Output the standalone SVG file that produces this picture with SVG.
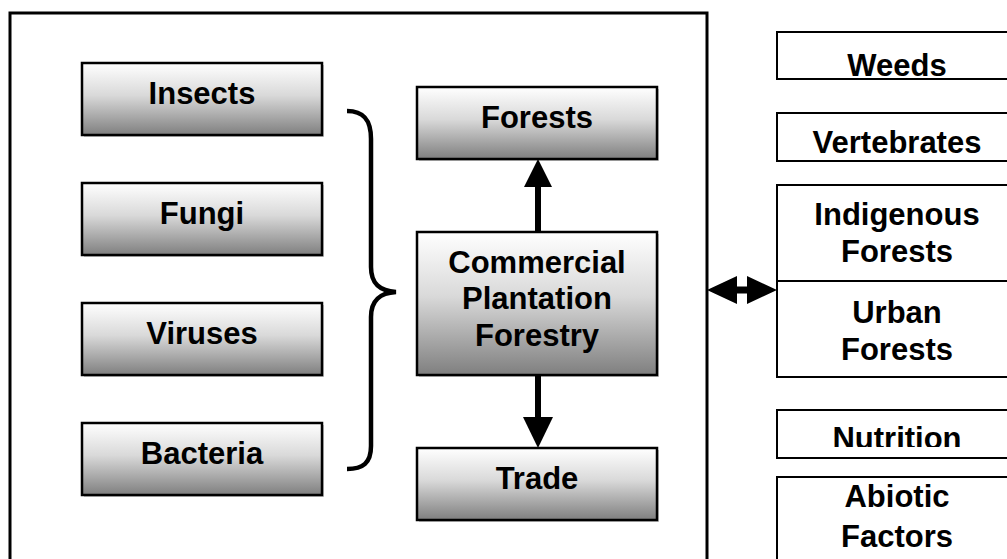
<svg xmlns="http://www.w3.org/2000/svg" width="1007" height="559" viewBox="0 0 1007 559">
<defs>
<linearGradient id="g" x1="0" y1="0" x2="0" y2="1">
<stop offset="0" stop-color="#ffffff"/>
<stop offset="0.45" stop-color="#d9d9d9"/>
<stop offset="1" stop-color="#7f7f7f"/>
</linearGradient>
<clipPath id="cNut"><rect x="777" y="410" width="240" height="37"/></clipPath>
<clipPath id="cWeeds"><rect x="777" y="32" width="240" height="44"/></clipPath>
<clipPath id="cVert"><rect x="777" y="113" width="240" height="40"/></clipPath>
</defs>
<style>
.gb{fill:url(#g);stroke:#000;stroke-width:2.5}
.sh{fill:#c8c8c8}
.wb{fill:#fff;stroke:#000;stroke-width:2}
.t{font-family:"Liberation Sans",Arial,sans-serif;font-weight:bold;font-size:31px;fill:#000;text-anchor:middle}
.ln{stroke:#000;stroke-width:6;fill:none}
</style>
<rect x="10" y="13" width="697" height="560" fill="#fff" stroke="#000" stroke-width="3"/>
<g id="insects"><rect class="sh" x="84" y="65" width="240" height="72"/><rect class="gb" x="82" y="63" width="240" height="72"/><text class="t" x="202" y="104">Insects</text></g>
<g id="fungi"><rect class="sh" x="84" y="185" width="240" height="72"/><rect class="gb" x="82" y="183" width="240" height="72"/><text class="t" x="202" y="224">Fungi</text></g>
<g id="viruses"><rect class="sh" x="84" y="305" width="240" height="72"/><rect class="gb" x="82" y="303" width="240" height="72"/><text class="t" x="202" y="344">Viruses</text></g>
<g id="bacteria"><rect class="sh" x="84" y="425" width="240" height="72"/><rect class="gb" x="82" y="423" width="240" height="72"/><text class="t" x="202" y="464">Bacteria</text></g>
<g id="forests"><rect class="sh" x="419" y="89" width="240" height="72"/><rect class="gb" x="417" y="87" width="240" height="72"/><text class="t" x="537" y="128">Forests</text></g>
<g id="commercial"><rect class="sh" x="419" y="234" width="240" height="143"/><rect class="gb" x="417" y="232" width="240" height="143"/><text class="t" x="537" y="273">Commercial</text><text class="t" x="537" y="309">Plantation</text><text class="t" x="537" y="346">Forestry</text></g>
<g id="trade"><rect class="sh" x="419" y="450" width="240" height="72"/><rect class="gb" x="417" y="448" width="240" height="72"/><text class="t" x="537" y="489">Trade</text></g>
<g id="weeds"><rect class="wb" x="777" y="32" width="240" height="47"/><text class="t" x="897" y="76" clip-path="url(#cWeeds)">Weeds</text></g>
<g id="vertebrates"><rect class="wb" x="777" y="113" width="240" height="48"/><text class="t" x="897" y="153" clip-path="url(#cVert)">Vertebrates</text></g>
<g id="indigenous"><rect class="wb" x="777" y="185" width="240" height="96"/><text class="t" x="897" y="225">Indigenous</text><text class="t" x="897" y="262">Forests</text></g>
<g id="urban"><rect class="wb" x="777" y="281" width="240" height="96"/><text class="t" x="897" y="323">Urban</text><text class="t" x="897" y="360">Forests</text></g>
<g id="nutrition"><rect class="wb" x="777" y="410" width="240" height="48"/><text class="t" x="897" y="449" clip-path="url(#cNut)">Nutrition</text></g>
<g id="abiotic"><rect class="wb" x="777" y="477" width="240" height="100"/><text class="t" x="897" y="507">Abiotic</text><text class="t" x="897" y="547">Factors</text></g>
<g id="connectors">
<path d="M347,111 C363,111 371,119 371,139 L371,267 C371,284 380,291 396,292 C380,293 371,300 371,317 L371,446 C371,463 363,469 347,469" fill="none" stroke="#000" stroke-width="4.5"/>
<line class="ln" x1="538" y1="232" x2="538" y2="185"/>
<polygon points="538,159 524,187 552,187" fill="#000"/>
<line class="ln" x1="538" y1="375" x2="538" y2="420"/>
<polygon points="538,448 523,417 553,417" fill="#000"/>
<polygon points="707,290 737,276 737,286.5 747,286.5 747,276 777,290 747,304 747,293.5 737,293.5 737,304" fill="#000"/>
</g>
</svg>
